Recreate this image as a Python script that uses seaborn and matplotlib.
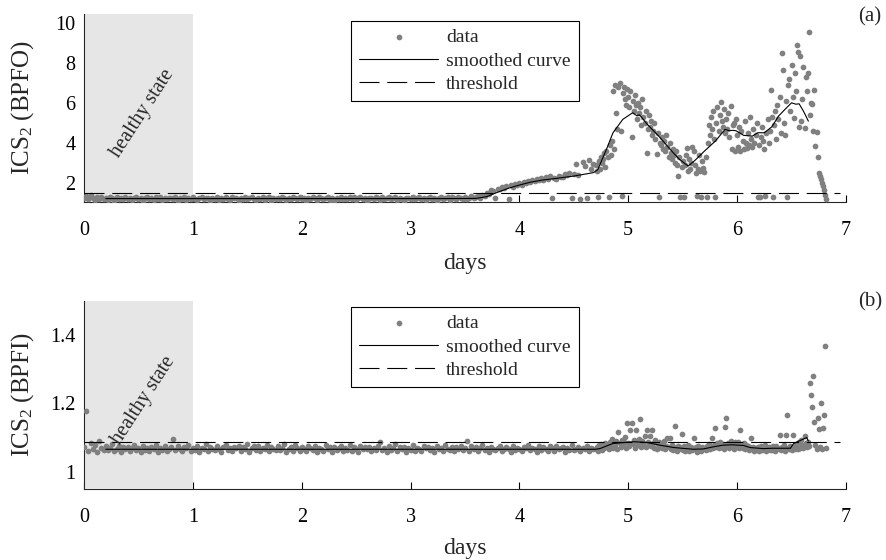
import numpy as np
import pandas as pd
import matplotlib
matplotlib.use("Agg")
import matplotlib.pyplot as plt
import seaborn as sns

# ---------------------------------------------------------------- data
# indicator samples: 0.02-day spacing up to 4.68 d, then 0.01-day spacing
EARLY_STEP = 0.02
LATE_START = 4.70
LATE_STEP = 0.01

bpfo_early = [
    1.25, 1.32, 1.18, 1.38, 1.22, 1.15, 1.30, 1.20, 1.27, 1.17,
    1.24, 1.14, 1.29, 1.21, 1.08, 1.26, 1.19, 1.23, 1.16, 1.28,
    1.20, 1.25, 1.13, 1.22, 1.30, 1.17, 1.24, 1.09, 1.21, 1.27,
    1.18, 1.23, 1.15, 1.29, 1.20, 1.26, 1.12, 1.22, 1.19, 1.25,
    1.21, 1.16, 1.28, 1.08, 1.24, 1.19, 1.27, 1.14, 1.22, 1.18,
    1.26, 1.20, 1.13, 1.23, 1.29, 1.17, 1.21, 1.25, 1.10, 1.24,
    1.19, 1.27, 1.15, 1.22, 1.18, 1.30, 1.20, 1.14, 1.26, 1.21,
    1.23, 1.09, 1.25, 1.18, 1.28, 1.16, 1.22, 1.27, 1.19, 1.13,
    1.24, 1.20, 1.29, 1.15, 1.21, 1.26, 1.08, 1.23, 1.18, 1.25,
    1.17, 1.28, 1.21, 1.14, 1.24, 1.19, 1.30, 1.22, 1.16, 1.27,
    1.20, 1.25, 1.10, 1.23, 1.18, 1.29, 1.21, 1.15, 1.26, 1.22,
    1.18, 1.24, 1.27, 1.13, 1.21, 1.08, 1.25, 1.19, 1.28, 1.17,
    1.23, 1.16, 1.26, 1.20, 1.30, 1.14, 1.22, 1.27, 1.19, 1.24,
    1.09, 1.21, 1.25, 1.18, 1.28, 1.22, 1.15, 1.26, 1.20, 1.23,
    1.27, 1.17, 1.22, 1.29, 1.13, 1.24, 1.19, 1.08, 1.25, 1.21,
    1.16, 1.26, 1.20, 1.23, 1.28, 1.18, 1.25, 1.14, 1.22, 1.27,
    1.19, 1.24, 1.10, 1.21, 1.29, 1.17, 1.23, 1.26, 1.15, 1.28,
    1.22, 1.18, 1.27, 1.24, 1.20, 1.30, 1.16, 1.25, 1.32, 1.21,
    1.28, 1.35, 1.24, 1.40, 1.33, 1.50, 1.45, 1.62, 1.58, 1.22,
    1.70, 1.66, 1.78, 1.74, 1.82, 1.20, 1.88, 1.79, 1.93, 1.86,
    1.97, 1.90, 2.05, 1.99, 2.10, 2.02, 2.15, 2.07, 2.18, 2.12,
    2.22, 2.14, 2.26, 2.19, 2.31, 1.22, 2.24, 2.20, 2.35, 2.28,
    2.30, 2.42, 2.36, 2.50, 1.24, 2.45, 2.95, 2.38, 1.20, 3.05,
    2.85, 1.25, 3.15, 2.70, 2.95,
]

bpfo_late = [
    2.90, 2.60, 1.30, 3.10, 2.70, 3.30, 3.00, 3.20, 3.50, 2.80,
    3.60, 3.30, 1.28, 3.90, 3.40, 4.10, 6.60, 3.70, 6.90, 5.50,
    4.70, 6.80, 7.00, 4.60, 1.35, 6.50, 6.80, 6.20, 5.90, 6.70,
    6.30, 5.80, 6.60, 4.30, 6.10, 5.60, 6.40, 5.90, 5.20, 6.00,
    5.50, 5.80, 4.90, 6.20, 5.30, 5.00, 5.60, 3.50, 4.70, 5.40,
    4.80, 5.10, 4.40, 4.60, 5.00, 4.20, 3.45, 4.50, 1.30, 4.00,
    3.90, 4.30, 3.70, 4.10, 3.60, 4.40, 3.80, 3.30, 4.00, 3.50,
    3.20, 3.70, 3.40, 3.00, 3.60, 2.90, 2.33, 3.30, 1.30, 2.80,
    3.10, 1.30, 2.90, 3.40, 3.75, 2.60, 3.20, 2.70, 3.00, 3.80,
    3.60, 2.90, 2.50, 1.32, 2.70, 3.40, 2.60, 1.30, 3.10, 2.75,
    2.55, 3.30, 1.30, 4.00, 4.90, 4.40, 5.30, 4.70, 5.60, 4.20,
    1.30, 5.00, 5.80, 4.60, 5.40, 6.05, 5.10, 4.80, 5.70, 4.50,
    5.20, 4.70, 5.50, 4.30, 5.85, 3.70, 4.90, 5.00, 3.60, 5.20,
    4.40, 3.80, 4.80, 3.60, 4.60, 4.10, 3.70, 5.10, 4.00, 3.75,
    4.50, 3.90, 5.30, 4.20, 3.80, 4.70, 4.00, 4.40, 5.00, 1.30,
    3.90, 1.30, 4.30, 4.80, 4.10, 3.70, 1.32, 4.50, 5.20, 4.00,
    4.60, 6.65, 5.30, 1.30, 4.90, 5.60, 4.20, 5.90, 5.20, 6.30,
    4.50, 8.50, 7.65, 5.00, 4.40, 6.10, 1.30, 6.90, 7.20, 5.60,
    7.90, 6.30, 5.25, 7.50, 6.60, 8.90, 8.55, 4.80, 8.35, 5.10,
    6.20, 7.80, 4.75, 7.30, 6.60, 7.50, 9.55, 5.40, 6.00, 5.95,
    4.60, 6.65, 3.85, 4.55, 3.30, 2.50, 2.35, 2.20, 2.00, 1.85,
    1.65, 1.40, 1.20,
]

bpfi_early = [
    1.072, 1.178, 1.060, 1.085, 1.066, 1.079, 1.058, 1.089, 1.070, 1.063,
    1.075, 1.064, 1.070, 1.080, 1.061, 1.068, 1.077, 1.059, 1.072, 1.066,
    1.074, 1.060, 1.069, 1.078, 1.063, 1.071, 1.057, 1.076, 1.065, 1.070,
    1.062, 1.073, 1.067, 1.079, 1.058, 1.070, 1.064, 1.075, 1.061, 1.068,
    1.072, 1.096, 1.063, 1.077, 1.066, 1.060, 1.074, 1.069, 1.078, 1.062,
    1.070, 1.065, 1.076, 1.059, 1.071, 1.067, 1.080, 1.062, 1.073, 1.066,
    1.064, 1.075, 1.068, 1.057, 1.072, 1.078, 1.063, 1.070, 1.060, 1.074,
    1.069, 1.076, 1.061, 1.073, 1.066, 1.081, 1.058, 1.071, 1.075, 1.064,
    1.077, 1.062, 1.070, 1.066, 1.079, 1.060, 1.073, 1.068, 1.063, 1.076,
    1.065, 1.071, 1.080, 1.059, 1.067, 1.074, 1.062, 1.078, 1.069, 1.061,
    1.073, 1.066, 1.060, 1.075, 1.070, 1.063, 1.077, 1.058, 1.071, 1.068,
    1.062, 1.079, 1.067, 1.072, 1.057, 1.074, 1.065, 1.070, 1.076, 1.061,
    1.070, 1.064, 1.078, 1.061, 1.073, 1.068, 1.059, 1.075, 1.066, 1.072,
    1.067, 1.074, 1.060, 1.070, 1.063, 1.077, 1.086, 1.065, 1.071, 1.058,
    1.076, 1.063, 1.069, 1.080, 1.061, 1.072, 1.066, 1.074, 1.059, 1.070,
    1.065, 1.078, 1.062, 1.071, 1.067, 1.060, 1.075, 1.069, 1.073, 1.064,
    1.071, 1.058, 1.076, 1.066, 1.070, 1.062, 1.079, 1.068, 1.063, 1.074,
    1.060, 1.072, 1.067, 1.077, 1.064, 1.070, 1.091, 1.061, 1.075, 1.066,
    1.073, 1.062, 1.069, 1.078, 1.065, 1.071, 1.059, 1.074, 1.068, 1.063,
    1.070, 1.077, 1.061, 1.066, 1.073, 1.068, 1.058, 1.075, 1.064, 1.071,
    1.067, 1.060, 1.074, 1.069, 1.078, 1.063, 1.071, 1.066, 1.059, 1.076,
    1.064, 1.072, 1.068, 1.061, 1.075, 1.070, 1.062, 1.077, 1.066, 1.069,
    1.073, 1.058, 1.071, 1.065, 1.079, 1.063, 1.068, 1.074, 1.060, 1.070,
    1.066, 1.075, 1.062, 1.071, 1.068,
]

bpfi_late = [
    1.066, 1.074, 1.061, 1.078, 1.069, 1.082, 1.064, 1.076, 1.071, 1.085,
    1.072, 1.080, 1.067, 1.088, 1.075, 1.095, 1.070, 1.083, 1.078, 1.090,
    1.068, 1.117, 1.085, 1.074, 1.092, 1.079, 1.087, 1.102, 1.071, 1.142,
    1.084, 1.076, 1.123, 1.142, 1.081, 1.092, 1.070, 1.123, 1.088, 1.078,
    1.095, 1.154, 1.074, 1.090, 1.083, 1.105, 1.072, 1.122, 1.086, 1.079,
    1.105, 1.077, 1.122, 1.084, 1.071, 1.093, 1.068, 1.080, 1.088, 1.074,
    1.082, 1.069, 1.078, 1.090, 1.066, 1.076, 1.100, 1.072, 1.100, 1.067,
    1.079, 1.064, 1.074, 1.135, 1.070, 1.062, 1.077, 1.068, 1.073, 1.110,
    1.063, 1.075, 1.060, 1.071, 1.066, 1.078, 1.061, 1.069, 1.074, 1.064,
    1.100, 1.067, 1.072, 1.059, 1.076, 1.065, 1.070, 1.062, 1.074, 1.068,
    1.071, 1.064, 1.077, 1.068, 1.080, 1.066, 1.073, 1.100, 1.070, 1.079,
    1.127, 1.074, 1.083, 1.069, 1.087, 1.076, 1.072, 1.081, 1.066, 1.130,
    1.158, 1.078, 1.085, 1.070, 1.091, 1.075, 1.082, 1.068, 1.088, 1.077,
    1.073, 1.086, 1.069, 1.122, 1.080, 1.071, 1.084, 1.066, 1.078, 1.070,
    1.076, 1.064, 1.072, 1.100, 1.067, 1.074, 1.061, 1.070, 1.065, 1.073,
    1.062, 1.069, 1.075, 1.063, 1.071, 1.066, 1.078, 1.060, 1.068, 1.074,
    1.065, 1.072, 1.063, 1.077, 1.068, 1.061, 1.075, 1.066, 1.070, 1.107,
    1.064, 1.073, 1.069, 1.078, 1.062, 1.107, 1.166, 1.070, 1.067, 1.075,
    1.063, 1.107, 1.072, 1.068, 1.080, 1.074, 1.066, 1.086, 1.071, 1.094,
    1.078, 1.069, 1.104, 1.083, 1.073, 1.088, 1.076, 1.259, 1.224, 1.190,
    1.281, 1.145, 1.079, 1.068, 1.156, 1.125, 1.072, 1.200, 1.066, 1.127,
    1.166, 1.368, 1.070,
]

# smoothed curves (knots of the moving-average trend)
bpfo_smooth_days = [0.20, 3.30, 3.60, 3.70, 3.80, 3.90, 4.00, 4.10, 4.20, 4.35,
                    4.50, 4.68, 4.72, 4.80, 4.86, 4.95, 5.04, 5.08, 5.10, 5.12,
                    5.17, 5.28, 5.40, 5.47, 5.55, 5.61, 5.70, 5.80, 5.89, 5.93,
                    5.96, 5.99, 6.06, 6.14, 6.19, 6.25, 6.32, 6.38, 6.44, 6.50,
                    6.54, 6.57, 6.61, 6.655]
bpfo_smooth = [1.20, 1.20, 1.21, 1.30, 1.52, 1.72, 1.88, 2.02, 2.12, 2.22,
               2.33, 2.50, 2.65, 3.67, 4.50, 5.17, 5.50, 5.35, 5.40, 5.30,
               4.95, 4.33, 3.58, 3.17, 2.83, 3.10, 3.58, 4.08, 4.67, 4.60,
               4.62, 4.60, 4.37, 4.33, 4.50, 4.50, 4.80, 5.33, 5.67, 6.00,
               5.93, 5.95, 5.58, 5.08]

bpfi_smooth_days = [0.20, 4.70, 4.74, 4.86, 5.05, 5.17, 5.29, 5.42, 5.60, 5.69,
                    5.78, 5.87, 5.96, 6.06, 6.12, 6.24, 6.33, 6.49, 6.52, 6.61,
                    6.64, 6.655]
bpfi_smooth = [1.066, 1.066, 1.068, 1.083, 1.088, 1.086, 1.078, 1.071, 1.066, 1.067,
               1.073, 1.078, 1.079, 1.077, 1.071, 1.068, 1.069, 1.069, 1.083, 1.096,
               1.100, 1.090]

bpfo_threshold = 1.48
bpfi_threshold = 1.088
threshold_days = [0.0, 6.95]
healthy_days = (0.0, 1.0)

panels = [
    dict(early=bpfo_early, late=bpfo_late, sm_x=bpfo_smooth_days, sm_y=bpfo_smooth,
         thr=bpfo_threshold, ylabel="ICS$_2$ (BPFO)", ylim=(1.03, 10.45),
         yticks=[2, 4, 6, 8, 10], tag="(a)", text_xy=(0.542, 5.47)),
    dict(early=bpfi_early, late=bpfi_late, sm_x=bpfi_smooth_days, sm_y=bpfi_smooth,
         thr=bpfi_threshold, ylabel="ICS$_2$ (BPFI)", ylim=(0.95, 1.5),
         yticks=[1, 1.2, 1.4], tag="(b)", text_xy=(0.55, 1.208)),
]

# ---------------------------------------------------------------- style
sns.set_theme(style="ticks")
plt.rcParams["font.family"] = ["Liberation Serif", "DejaVu Serif"]
plt.rcParams["mathtext.default"] = "regular"
plt.rcParams["axes.linewidth"] = 0.8

fig = plt.figure(figsize=(8.87, 5.6), dpi=100)
axes_rects = [(0.0947, 0.6393, 0.859, 0.3357), (0.0947, 0.1268, 0.859, 0.3363)]
legend_anchor = [(0.3957, 0.9625), (0.3957, 0.4518)]
tag_y = [0.9705, 0.4616]
label_y = [-0.272, -0.258]

for i, p in enumerate(panels):
    ax = fig.add_axes(axes_rects[i])
    early = np.asarray(p["early"])
    late = np.asarray(p["late"])
    days = np.concatenate([np.arange(len(early)) * EARLY_STEP,
                           LATE_START + np.arange(len(late)) * LATE_STEP])
    df = pd.DataFrame({"days": days, "ics": np.concatenate([early, late])})

    ax.axvspan(*healthy_days, color="#e6e6e6", lw=0, zorder=3)
    sns.scatterplot(data=df, x="days", y="ics", ax=ax, color="#808080", s=17,
                    linewidth=0, label="data", zorder=4)
    sns.lineplot(x=p["sm_x"], y=p["sm_y"], ax=ax, color="black", lw=0.8,
                 sort=False, estimator=None, label="smoothed curve", zorder=5)
    sns.lineplot(x=threshold_days, y=[p["thr"]] * len(threshold_days), ax=ax,
                 color="black", lw=0.8, linestyle=(0, (18, 7)), sort=False,
                 estimator=None, label="threshold", zorder=5)

    ax.set_xlim(0, 7)
    ax.set_ylim(*p["ylim"])
    ax.set_xticks(range(8))
    ax.set_yticks(p["yticks"])
    ax.set_yticklabels([f"{v:g}" for v in p["yticks"]])
    sns.despine(ax=ax)
    ax.spines["left"].set_zorder(3.5)
    ax.tick_params(axis="both", direction="in", length=5, width=0.8,
                   labelsize=14.5, colors="black")
    ax.tick_params(axis="x", pad=14)
    ax.tick_params(axis="y", pad=6)

    ax.set_xlabel("days", fontsize=17)
    ax.xaxis.set_label_coords(0.5, label_y[i])
    ax.set_ylabel(p["ylabel"], fontsize=18)
    ax.yaxis.set_label_coords(-0.063, 0.5)

    ax.text(*p["text_xy"], "healthy state", fontsize=14.5, rotation=57,
            rotation_mode="anchor", ha="center", va="center", zorder=6)

    leg = ax.legend(loc="upper left", bbox_to_anchor=legend_anchor[i],
                    bbox_transform=fig.transFigure, borderaxespad=0,
                    fontsize=14, frameon=True, fancybox=False, framealpha=1,
                    edgecolor="black", handlelength=4.1, handletextpad=0.4,
                    labelspacing=0.3, borderpad=0.4, scatterpoints=1)
    leg.get_frame().set_linewidth(0.8)
    leg.set_zorder(10)

    fig.text(0.981, tag_y[i], p["tag"], fontsize=15, ha="center", va="center")

fig.savefig("out.png", dpi=100)
